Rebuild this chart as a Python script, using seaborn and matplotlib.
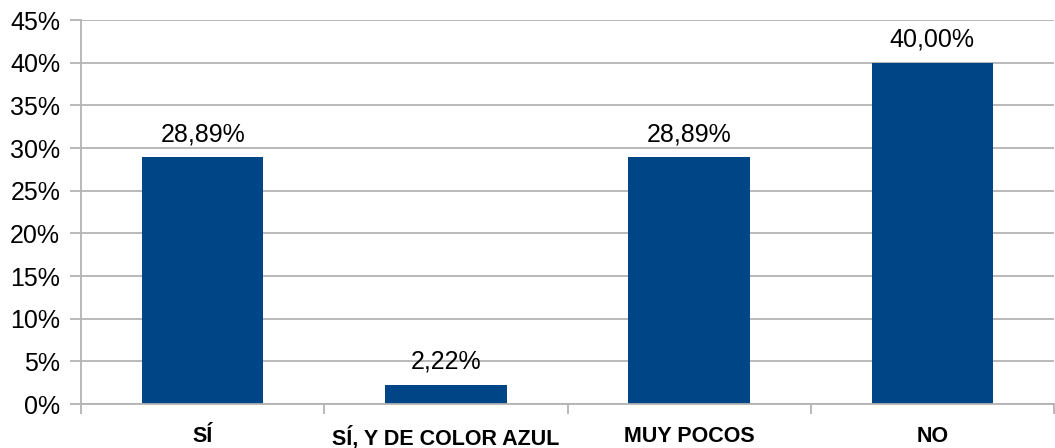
import matplotlib
matplotlib.use("Agg")
import matplotlib.pyplot as plt
import seaborn as sns
import pandas as pd

sns.set_theme(style="white")
plt.rcParams['font.family'] = ['Liberation Sans', 'DejaVu Sans']
plt.rcParams['text.color'] = 'black'
plt.rcParams['xtick.color'] = 'black'
plt.rcParams['ytick.color'] = 'black'

# data
categories = ["SÍ", "SÍ, Y DE COLOR AZUL", "MUY POCOS", "NO"]
percentages = [28.89, 2.22, 28.89, 40.00]

df = pd.DataFrame({"respuesta": categories, "porcentaje": percentages})

grid_color = "#b3b3b3"
bar_color = "#004586"

fig = plt.figure(figsize=(10.55, 4.48), dpi=100)
# axes area in pixels: x 81..1054, y 20..404
ax = fig.add_axes([81 / 1055, (448 - 404) / 448, (1054 - 81) / 1055, 384 / 448])

sns.barplot(data=df, x="respuesta", y="porcentaje", color=bar_color,
            width=0.5, saturation=1, linewidth=0, edgecolor="none", ax=ax)

ax.set_ylim(0, 45)
ax.set_xlim(-0.5, -0.5 + 973 / 245)
ax.set_yticks(range(0, 50, 5))
ax.set_yticklabels([f"{t}%" for t in range(0, 50, 5)], fontsize=18)
ax.set_xlabel("")
ax.set_ylabel("")

# grid and axis look
ax.yaxis.grid(True, color=grid_color, linewidth=1.3)
ax.set_axisbelow(True)
for side in ["top", "right"]:
    ax.spines[side].set_visible(False)
for side in ["left", "bottom"]:
    ax.spines[side].set_color(grid_color)
    ax.spines[side].set_linewidth(1.3)

ax.tick_params(axis="y", left=True, length=8, width=1.3, color=grid_color,
               labelcolor="black", pad=7)
ax.tick_params(axis="x", bottom=False, pad=10, labelcolor="black")
ax.set_xticks([i - 0.5 for i in range(len(categories) + 1)], minor=True)
ax.tick_params(axis="x", which="minor", bottom=True, length=7, width=1.3, color=grid_color)
for lbl in ax.get_xticklabels():
    lbl.set_fontsize(15.5)
    lbl.set_fontweight("bold")

# value labels with comma decimals
labels = [f"{v:.2f}".replace(".", ",") + "%" for v in percentages]
ax.bar_label(ax.containers[0], labels=labels, fontsize=18, padding=8, color="black")

fig.savefig("out.png", dpi=100)
